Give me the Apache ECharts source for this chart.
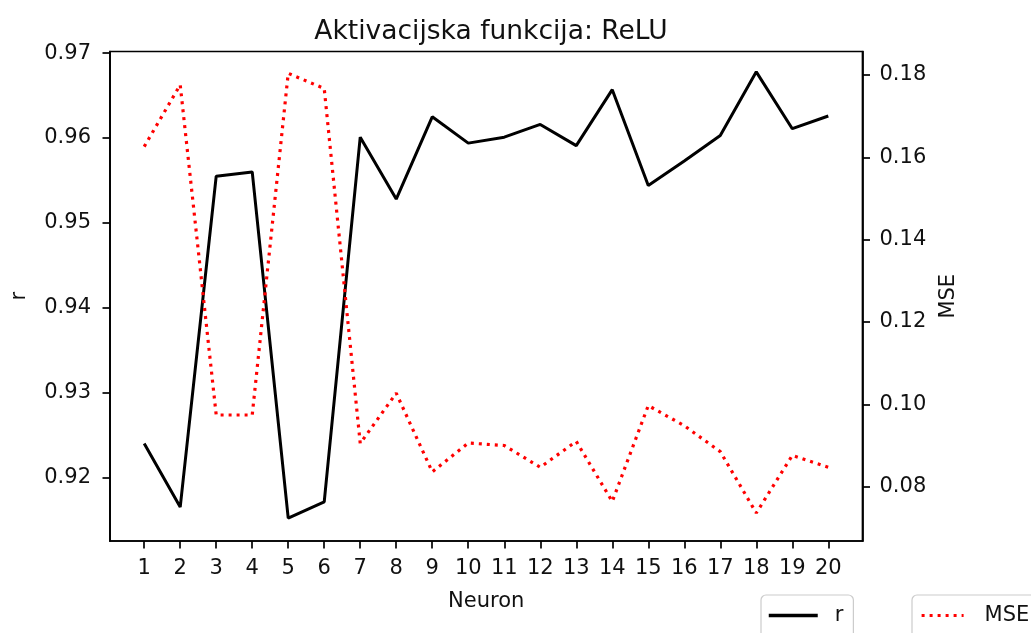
<!DOCTYPE html>
<html>
<head>
<meta charset="utf-8">
<script src="https://cdn.jsdelivr.net/npm/echarts@6/dist/echarts.min.js"></script>
<style>
html,body{margin:0;padding:0;background:#fff;}
#chart{width:1031px;height:633px;}
</style>
</head>
<body>
<div id="chart"></div>
<script>
const neurons = [1,2,3,4,5,6,7,8,9,10,11,12,13,14,15,16,17,18,19,20];
const rValues = [0.9240,0.9165,0.9555,0.9560,0.9152,0.9171,0.9601,0.9528,0.9625,0.9594,0.9601,0.9616,0.9591,0.9657,0.9544,0.9573,0.9603,0.9678,0.9611,0.9626];
const mseValues = [0.1626,0.1776,0.0974,0.0974,0.1804,0.1767,0.0905,0.1027,0.0836,0.0906,0.0900,0.0847,0.0910,0.0764,0.0997,0.0948,0.0885,0.0736,0.0876,0.0847];
const rTicks = [0.92,0.93,0.94,0.95,0.96,0.97];
const mseTicks = [0.08,0.10,0.12,0.14,0.16,0.18];
const titleText = 'Aktivacijska funkcija: ReLU';

const FONT = 'DejaVu Sans';
const TXT = '#111';
const chart = echarts.init(document.getElementById('chart'), null, {renderer:'canvas'});
const tickStyle = {show:true, inside:false, length:7.5, lineStyle:{color:'#000', width:1.7}};
const lineAxis = {show:true, lineStyle:{color:'#000', width:1.7}};
const hiddenSymbol = {color:'rgba(0,0,0,0)', borderWidth:0, opacity:0};

chart.setOption({
  backgroundColor:'#fff',
  animation:false,
  title:{text:titleText, left:486, top:14, textAlign:'center',
    textStyle:{fontFamily:FONT, fontSize:26.5, fontWeight:'normal', color:TXT}},
  grid:{left:110, right:168.5, top:51.5, bottom:92, show:true, borderColor:'#000', borderWidth:1.7,
    backgroundColor:'transparent', containLabel:false, outerBoundsMode:'none'},
  legend:[
    {data:['r'], left:761, top:595, orient:'horizontal', itemWidth:49, itemHeight:14,
     padding:[10,10,14,6], borderColor:'#cccccc', borderWidth:1.2, borderRadius:5,
     itemStyle:hiddenSymbol, lineStyle:{width:3.5},
     textStyle:{fontFamily:FONT, fontSize:21, color:TXT, padding:[0,0,0,12]}},
    {data:['MSE'], left:912, top:595, orient:'horizontal', itemWidth:42, itemHeight:14,
     padding:[10,10,14,8], borderColor:'#cccccc', borderWidth:1.2, borderRadius:5,
     itemStyle:hiddenSymbol, lineStyle:{width:3.2},
     textStyle:{fontFamily:FONT, fontSize:21, color:TXT, padding:[0,0,0,16]}}
  ],
  xAxis:{type:'value', min:0.05, max:20.95,
    name:'Neuron', nameLocation:'middle', nameGap:50,
    nameTextStyle:{fontFamily:FONT, fontSize:21, color:TXT},
    axisLine:lineAxis, axisTick:Object.assign({customValues:neurons}, tickStyle),
    axisLabel:{customValues:neurons, fontFamily:FONT, fontSize:21, color:TXT, margin:17, formatter:v=>String(v)},
    splitLine:{show:false}},
  yAxis:[
    {type:'value', min:0.9125, max:0.9702, position:'left',
     name:'r', nameLocation:'middle', nameGap:80, nameRotate:90,
     nameTextStyle:{fontFamily:FONT, fontSize:21, color:TXT},
     axisLine:lineAxis, axisTick:Object.assign({customValues:rTicks}, tickStyle),
     axisLabel:{customValues:rTicks, fontFamily:FONT, fontSize:21, color:TXT, margin:19, formatter:v=>v.toFixed(2)},
     splitLine:{show:false}},
    {type:'value', min:0.0668, max:0.1857, position:'right',
     name:'MSE', nameLocation:'middle', nameGap:76, nameRotate:90,
     nameTextStyle:{fontFamily:FONT, fontSize:21, color:TXT},
     axisLine:lineAxis, axisTick:Object.assign({customValues:mseTicks}, tickStyle),
     axisLabel:{customValues:mseTicks, fontFamily:FONT, fontSize:21, color:TXT, margin:17, formatter:v=>v.toFixed(2)},
     splitLine:{show:false}}
  ],
  series:[
    {name:'r', type:'line', yAxisIndex:0, symbol:'none', showSymbol:false,
     data:neurons.map((n,i)=>[n, rValues[i]]),
     lineStyle:{color:'#000', width:3}, itemStyle:{color:'#000'}},
    {name:'MSE', type:'line', yAxisIndex:1, symbol:'none', showSymbol:false,
     data:neurons.map((n,i)=>[n, mseValues[i]]),
     lineStyle:{color:'#ff0000', width:3.2, type:[3,5]}, itemStyle:{color:'#ff0000'}}
  ]
});
</script>
</body>
</html>
